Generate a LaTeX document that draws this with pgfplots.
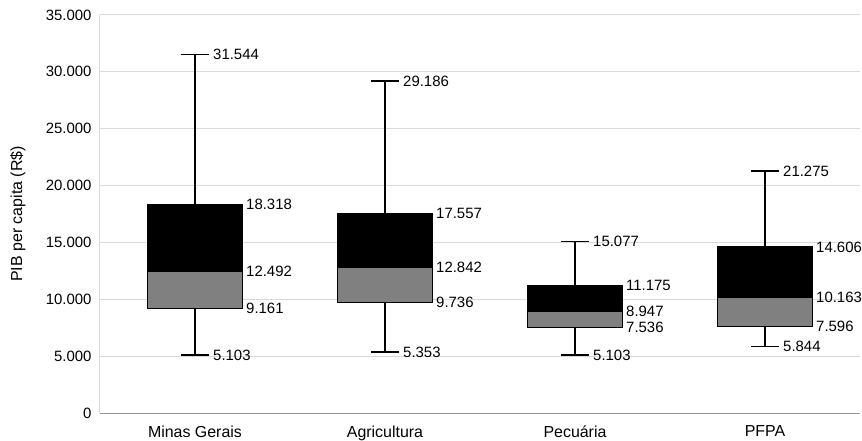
\documentclass[border=0pt]{standalone}
\usepackage{fontspec}
\setmainfont{Liberation Sans}
\usepackage{pgfplots}
\usepackage{pgfplotstable}
\pgfplotsset{compat=1.18}

\definecolor{boxgray}{HTML}{808080}
\definecolor{gridgray}{HTML}{DADADA}

% min, Q1, median, Q3, max per group
\pgfplotstableread{
pos lw lq med uq uw
0 5103 9161 12492 18318 31544
1 5353 9736 12842 17557 29186
2 5103 7536 8947 11175 15077
3 5844 7596 10163 14606 21275
}\stats

\pgfplotsset{
  vallabel/.style={draw=none, mark=none, point meta=y, nodes near coords,
    nodes near coords style={anchor=west, inner sep=0pt, xshift=#1, text=black,
      font=\fontsize{15}{15}\selectfont,
      /pgf/number format/.cd, fixed, precision=0, 1000 sep={.}, assume math mode=true}},
  whisk/.style={draw=none, mark=none,
    error bars/.cd, y dir=#1, y explicit, error mark=|,
    error bar style={draw=black, line width=1.3bp},
    error mark options={draw=black, mark size=14bp, line width=1.3bp}},
  boxpart/.style={draw=black, line width=1.2bp, fill=#1},
}

\begin{document}
\begin{tikzpicture}
\begin{axis}[
    name=ax,
    scale only axis,
    width=760bp, height=398bp,
    xmin=-0.5, xmax=3.5,
    ymin=0, ymax=35000,
    xtick={0,1,2,3},
    xticklabels={Minas Gerais, Agricultura, Pecuária, PFPA},
    ytick={0,5000,...,35000},
    scaled y ticks=false,
    tick style={draw=none},
    axis x line*=bottom,
    axis y line*=left,
    x axis line style={draw=black!40, line width=1bp},
    y axis line style={draw=gridgray, line width=1bp},
    ymajorgrids,
    grid style={draw=gridgray, line width=1bp},
    yticklabel style={font=\fontsize{15}{15}\selectfont, xshift=-5bp,
        /pgf/number format/.cd, fixed, precision=0, 1000 sep={.}, assume math mode=true},
    xticklabel style={font=\fontsize{16}{16}\selectfont, yshift=-9bp},
    ylabel={PIB per capita (R\$)},
    ylabel style={font=\fontsize{16}{16}\selectfont, at={(axis description cs:-0.108,0.5)}, anchor=center},
    clip=false,
]
% boxes: Q1 to median (gray), median to Q3 (black)
\addplot[boxpart=boxgray] coordinates {(-0.25,9161) (0.25,9161) (0.25,12492) (-0.25,12492)} -- cycle;
\addplot[boxpart=black] coordinates {(-0.25,12492) (0.25,12492) (0.25,18318) (-0.25,18318)} -- cycle;
\addplot[boxpart=boxgray] coordinates {(0.75,9736) (1.25,9736) (1.25,12842) (0.75,12842)} -- cycle;
\addplot[boxpart=black] coordinates {(0.75,12842) (1.25,12842) (1.25,17557) (0.75,17557)} -- cycle;
\addplot[boxpart=boxgray] coordinates {(1.75,7536) (2.25,7536) (2.25,8947) (1.75,8947)} -- cycle;
\addplot[boxpart=black] coordinates {(1.75,8947) (2.25,8947) (2.25,11175) (1.75,11175)} -- cycle;
\addplot[boxpart=boxgray] coordinates {(2.75,7596) (3.25,7596) (3.25,10163) (2.75,10163)} -- cycle;
\addplot[boxpart=black] coordinates {(2.75,10163) (3.25,10163) (3.25,14606) (2.75,14606)} -- cycle;

% whiskers with caps
\addplot[whisk=plus] table[x=pos, y=uq, y error plus expr=\thisrow{uw}-\thisrow{uq}] {\stats};
\addplot[whisk=minus] table[x=pos, y=lq, y error minus expr=\thisrow{lq}-\thisrow{lw}] {\stats};

% value labels
\addplot[vallabel=18bp] table[x=pos, y=uw] {\stats};
\addplot[vallabel=18bp] table[x=pos, y=lw] {\stats};
\addplot[vallabel=51bp] table[x=pos, y=uq] {\stats};
\addplot[vallabel=51bp] table[x=pos, y=med] {\stats};
\addplot[vallabel=51bp] table[x=pos, y=lq] {\stats};
\end{axis}
\pgfresetboundingbox
\path ([xshift=-100bp,yshift=-28bp]ax.south west) rectangle ([xshift=2bp,yshift=15bp]ax.north east);
\end{tikzpicture}
\end{document}
